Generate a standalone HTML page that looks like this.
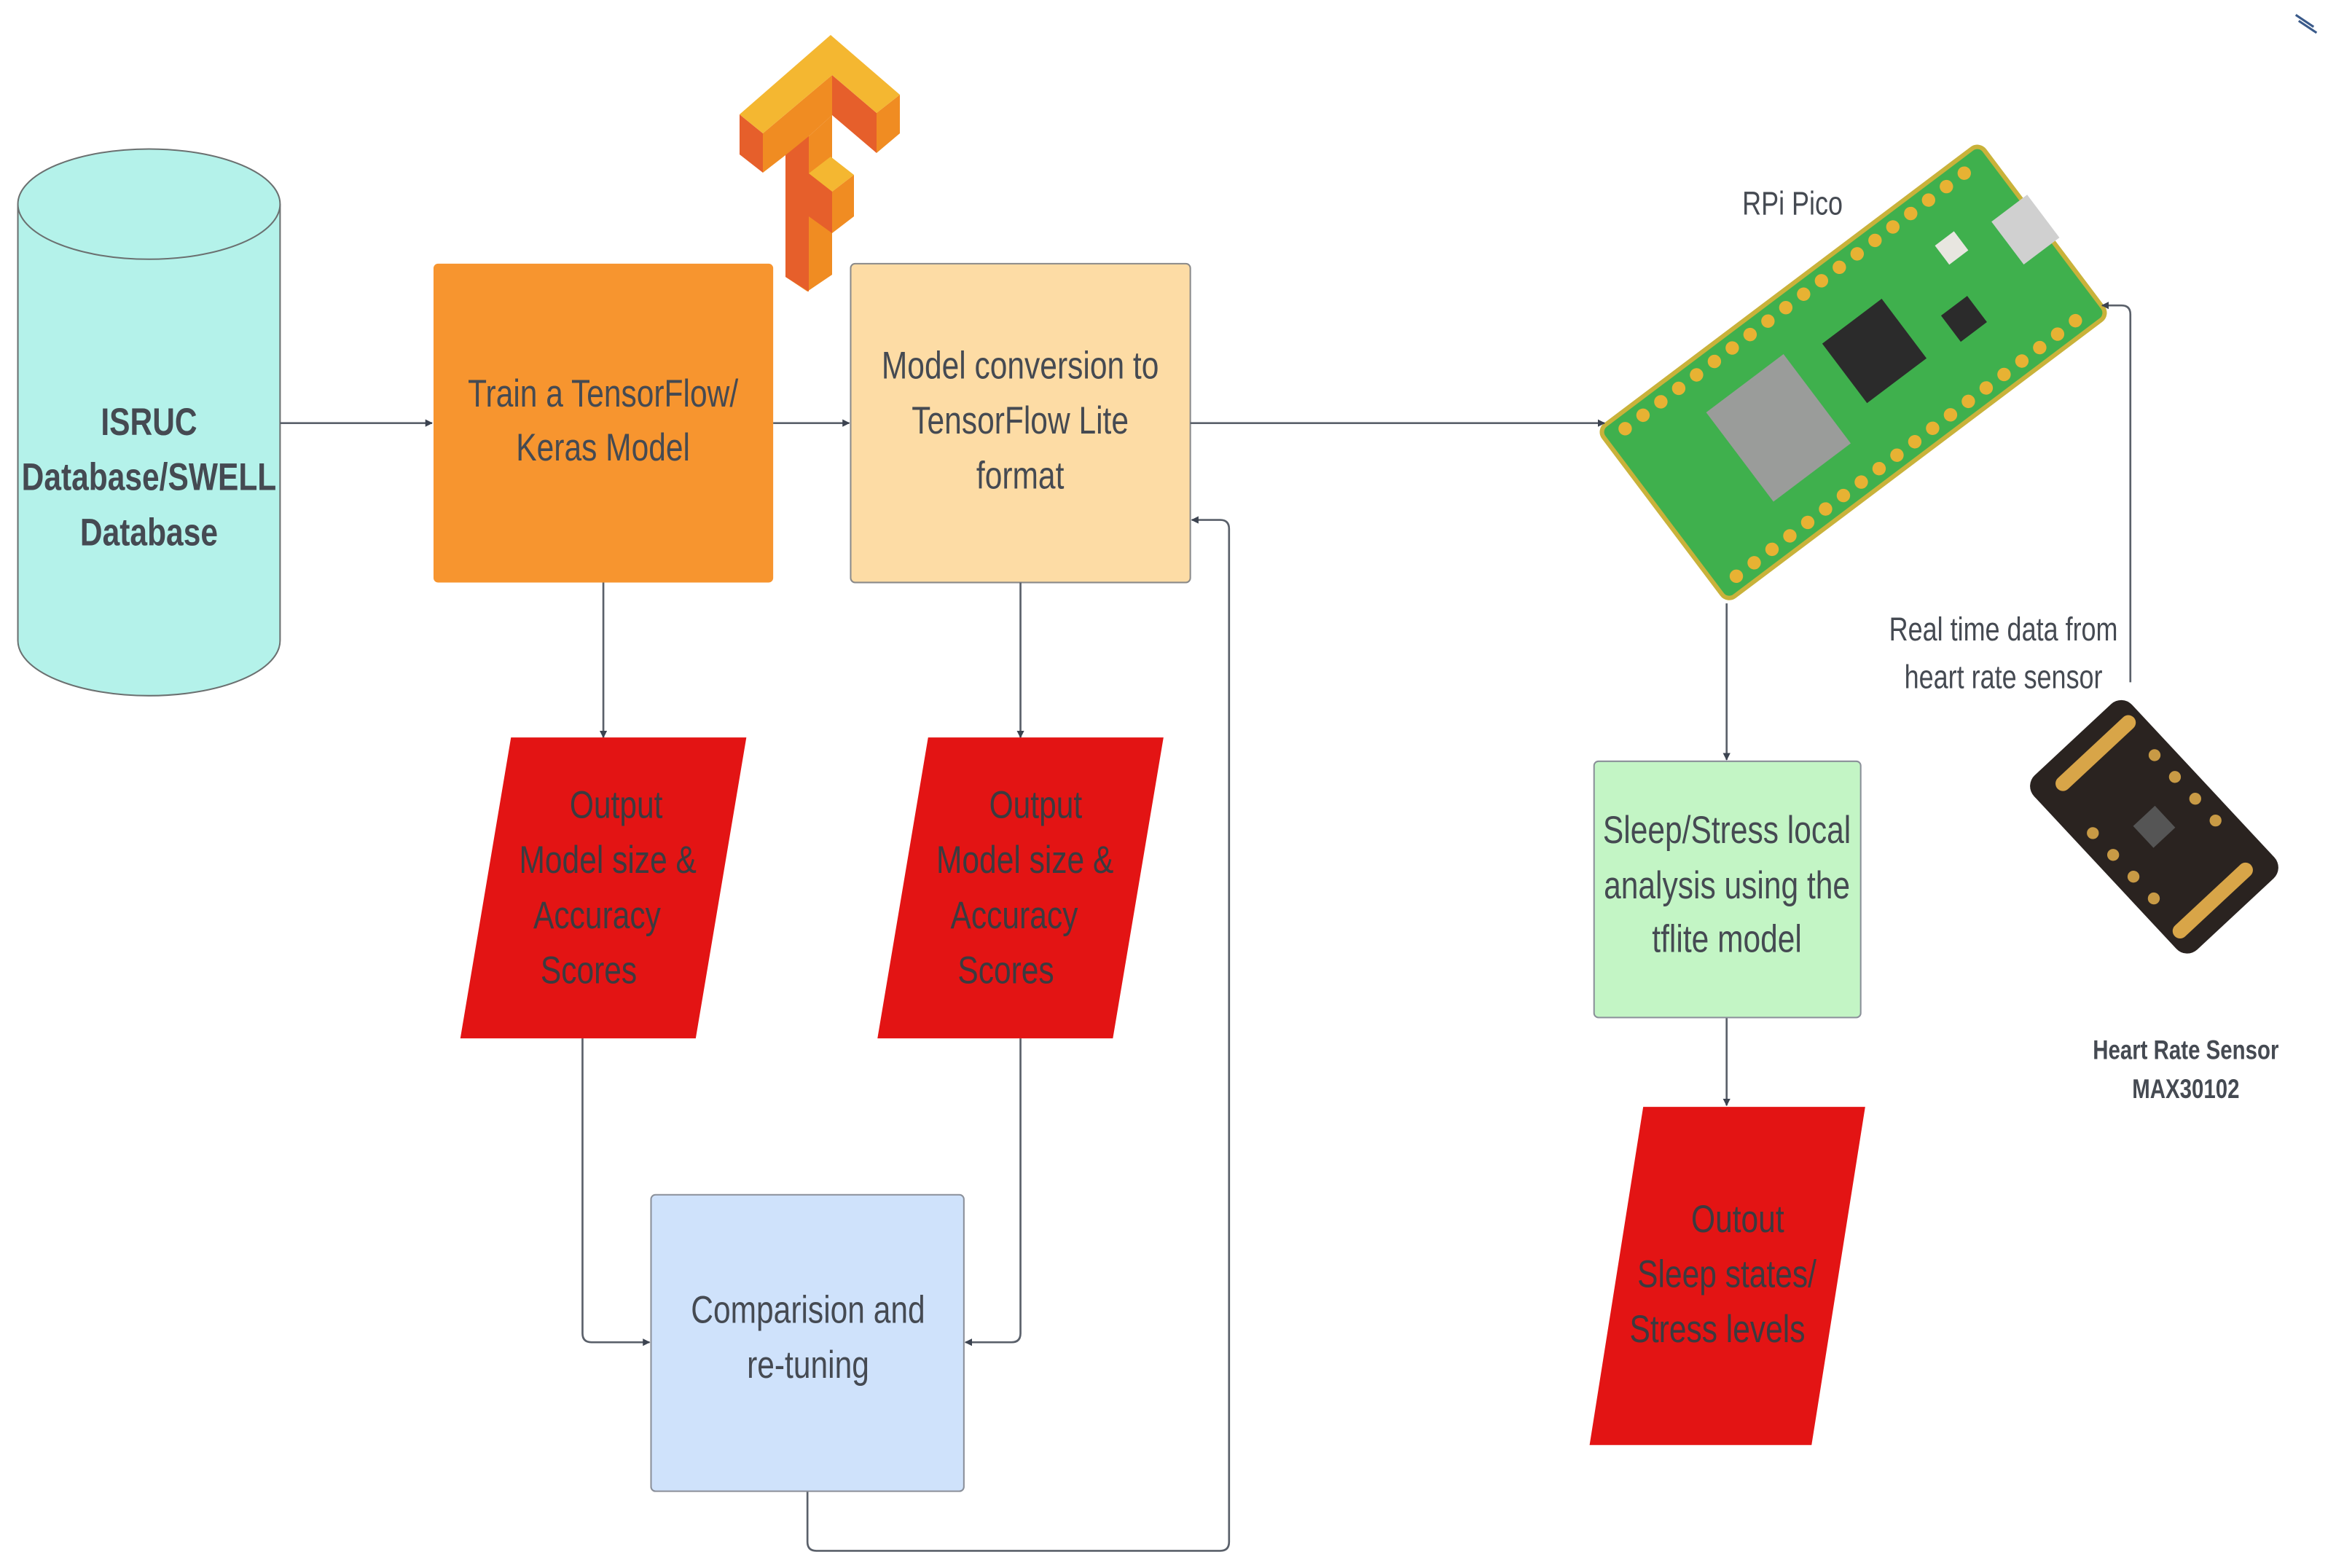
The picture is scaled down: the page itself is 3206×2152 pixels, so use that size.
<!DOCTYPE html>
<html><head><meta charset="utf-8"><style>
html,body{margin:0;padding:0;background:#fff;}
svg{display:block;}
text{font-family:"Liberation Sans",sans-serif;fill:#454a52;text-anchor:middle;}
.rt{fill:#3b3b40;}
</style></head><body>
<svg width="3206" height="2152" viewBox="0 0 3206 2152" xmlns="http://www.w3.org/2000/svg">
<defs>
<marker id="ah" viewBox="0 0 10 10" refX="9" refY="5" markerWidth="5" markerHeight="5" orient="auto" markerUnits="userSpaceOnUse">
<path d="M0,0 L10,5 L0,10 z" fill="#3c4350"/></marker>
</defs>
<rect width="3206" height="2152" fill="#fff"/>
<g>
<polygon points="1047,183 1142,103 1142,158 1110,187 1110,400 1108,400 1078,380 1078,213 1047,237" fill="#f08c22"/>
<polygon points="1110,187 1142,158 1142,377 1108,400" fill="#f08c22"/>
<polygon points="1015,157 1047,183 1047,237 1015,212" fill="#e65f2b"/>
<polygon points="1078,213 1110,187 1110,400 1078,380" fill="#e65f2b"/>
<polygon points="1142,103 1203,155 1203,210 1142,158" fill="#e65f2b"/>
<polygon points="1203,155 1235,130 1235,183 1203,210" fill="#f08c22"/>
<polygon points="1110,238 1140,215 1172,240 1142,263" fill="#f4b731"/>
<polygon points="1110,238 1142,263 1142,320 1110,297" fill="#e65f2b"/>
<polygon points="1142,263 1172,240 1172,297 1142,320" fill="#f08c22"/>
<polygon points="1140,48 1235,130 1203,155 1142,103 1047,183 1015,157" fill="#f4b731"/>
</g>
<g transform="scale(2.0446)">
<path d="M12,137 L12,430 A88,37 0 0 0 188,430 L188,137" fill="#b4f2ea" stroke="#6b7070" stroke-width="1"/>
<ellipse cx="100" cy="137" rx="88" ry="37" fill="#b4f2ea" stroke="#6b7070" stroke-width="1"/>
<rect x="291" y="177" width="228" height="214" rx="3" fill="#f7952f"/>
<rect x="571" y="177" width="228" height="214" rx="3" fill="#fddca5" stroke="#8a8a8a" stroke-width="1"/>
<g transform="translate(1244,250) rotate(-37)">
<rect x="-160" y="-72" width="320" height="144" rx="6" fill="#3fb04d"/>
<rect x="-160" y="-72" width="320" height="144" rx="6" fill="none" stroke="#c9b23a" stroke-width="3"/>
<g fill="#e7b233">
<circle cx="-145" cy="-62" r="4.5"/><circle cx="-130" cy="-62" r="4.5"/><circle cx="-115" cy="-62" r="4.5"/><circle cx="-100" cy="-62" r="4.5"/><circle cx="-85" cy="-62" r="4.5"/><circle cx="-70" cy="-62" r="4.5"/><circle cx="-55" cy="-62" r="4.5"/><circle cx="-40" cy="-62" r="4.5"/><circle cx="-25" cy="-62" r="4.5"/><circle cx="-10" cy="-62" r="4.5"/><circle cx="5" cy="-62" r="4.5"/><circle cx="20" cy="-62" r="4.5"/><circle cx="35" cy="-62" r="4.5"/><circle cx="50" cy="-62" r="4.5"/><circle cx="65" cy="-62" r="4.5"/><circle cx="80" cy="-62" r="4.5"/><circle cx="95" cy="-62" r="4.5"/><circle cx="110" cy="-62" r="4.5"/><circle cx="125" cy="-62" r="4.5"/><circle cx="140" cy="-62" r="4.5"/>
<circle cx="-145" cy="62" r="4.5"/><circle cx="-130" cy="62" r="4.5"/><circle cx="-115" cy="62" r="4.5"/><circle cx="-100" cy="62" r="4.5"/><circle cx="-85" cy="62" r="4.5"/><circle cx="-70" cy="62" r="4.5"/><circle cx="-55" cy="62" r="4.5"/><circle cx="-40" cy="62" r="4.5"/><circle cx="-25" cy="62" r="4.5"/><circle cx="-10" cy="62" r="4.5"/><circle cx="5" cy="62" r="4.5"/><circle cx="20" cy="62" r="4.5"/><circle cx="35" cy="62" r="4.5"/><circle cx="50" cy="62" r="4.5"/><circle cx="65" cy="62" r="4.5"/><circle cx="80" cy="62" r="4.5"/><circle cx="95" cy="62" r="4.5"/><circle cx="110" cy="62" r="4.5"/><circle cx="125" cy="62" r="4.5"/><circle cx="140" cy="62" r="4.5"/>
</g>
<rect x="-95" y="-38" width="65" height="75" fill="#9a9c9a"/>
<rect x="-5" y="-28" width="50" height="50" fill="#2b2b2b"/>
<rect x="135" y="-25" width="30" height="36" fill="#d0d0d0"/>
<rect x="95" y="-35" width="16" height="16" fill="#e8e6e0"/>
<rect x="70" y="5" width="22" height="22" fill="#2b2b2b"/>
</g>
<g transform="translate(1446,555) rotate(47)">
<rect x="-80" y="-45" width="160" height="90" rx="10" fill="#2a2320"/>
<rect x="-68" y="-40" width="10" height="70" rx="5" fill="#d8a548"/>
<rect x="58" y="-30" width="10" height="70" rx="5" fill="#d8a548"/>
<rect x="-10" y="-10" width="20" height="20" fill="#555"/>
<g fill="#c89a45"><circle cx="-35" cy="-33" r="4"/><circle cx="-15" cy="-33" r="4"/><circle cx="5" cy="-33" r="4"/><circle cx="25" cy="-33" r="4"/><circle cx="-25" cy="33" r="4"/><circle cx="-5" cy="33" r="4"/><circle cx="15" cy="33" r="4"/><circle cx="35" cy="33" r="4"/></g>
</g>
<g stroke="#5a606a" stroke-width="1.3" fill="none">
<line x1="188" y1="284" x2="290" y2="284" marker-end="url(#ah)"/>
<line x1="519" y1="284" x2="570" y2="284" marker-end="url(#ah)"/>
<line x1="799" y1="284" x2="1077" y2="284" marker-end="url(#ah)"/>
<line x1="405" y1="391" x2="405" y2="495" marker-end="url(#ah)"/>
<line x1="685" y1="391" x2="685" y2="495" marker-end="url(#ah)"/>
<path d="M391,697 L391,895 Q391,901 397,901 L436,901" marker-end="url(#ah)"/>
<path d="M685,697 L685,895 Q685,901 679,901 L648,901" marker-end="url(#ah)"/>
<path d="M542,1001 L542,1035 Q542,1041 548,1041 L819,1041 Q825,1041 825,1035 L825,355 Q825,349 819,349 L800,349" marker-end="url(#ah)"/>
<line x1="1159" y1="405" x2="1159" y2="510" marker-end="url(#ah)"/>
<line x1="1159" y1="683" x2="1159" y2="742" marker-end="url(#ah)"/>
<path d="M1430,458 L1430,211 Q1430,205 1424,205 L1411,205" marker-end="url(#ah)"/>
</g>
<polygon points="343,495 501,495 467,697 309,697" fill="#e31414"/>
<polygon points="623,495 781,495 747,697 589,697" fill="#e31414"/>
<rect x="437" y="802" width="210" height="199" rx="3" fill="#cfe2fb" stroke="#8a8f99" stroke-width="1"/>
<rect x="1070" y="511" width="179" height="172" rx="3" fill="#c3f5c5" stroke="#8a8f99" stroke-width="1"/>
<polygon points="1103,743 1252,743 1216,970 1067,970" fill="#e31414"/>
<path d="M1541,10 L1553,18 M1543,14 L1555,22" stroke="#3a5a8a" stroke-width="1.5"/>
<g transform="scale(0.8,1)">
<g font-size="26">
<text x="125" y="292" font-weight="bold">ISRUC</text>
<text x="125" y="329" font-weight="bold">Database/SWELL</text>
<text x="125" y="366" font-weight="bold">Database</text>
<text x="506" y="273">Train a TensorFlow/</text>
<text x="506" y="309">Keras Model</text>
<text x="856" y="254">Model conversion to</text>
<text x="856" y="291">TensorFlow Lite</text>
<text x="856" y="328">format</text>
<text class="rt" x="517" y="549">Output</text>
<text class="rt" x="510" y="586">Model size &amp;</text>
<text class="rt" x="501" y="623">Accuracy</text>
<text class="rt" x="494" y="660">Scores</text>
<text class="rt" x="869" y="549">Output</text>
<text class="rt" x="860" y="586">Model size &amp;</text>
<text class="rt" x="851" y="623">Accuracy</text>
<text class="rt" x="844" y="660">Scores</text>
<text x="678" y="888">Comparision and</text>
<text x="678" y="925">re-tuning</text>
<text x="1449" y="566">Sleep/Stress local</text>
<text x="1449" y="603">analysis using the</text>
<text x="1449" y="639">tflite model</text>
<text class="rt" x="1458" y="827">Outout</text>
<text class="rt" x="1449" y="864">Sleep states/</text>
<text class="rt" x="1441" y="901">Stress levels</text>
</g>
<text x="1504" y="144" font-size="22">RPi Pico</text>
<text x="1681" y="430" font-size="22">Real time data from</text>
<text x="1681" y="462" font-size="22">heart rate sensor</text>
<text x="1834" y="711" font-size="18" font-weight="bold">Heart Rate Sensor</text>
<text x="1834" y="737" font-size="18" font-weight="bold">MAX30102</text>
</g>
</g>
</svg>
</body></html>
